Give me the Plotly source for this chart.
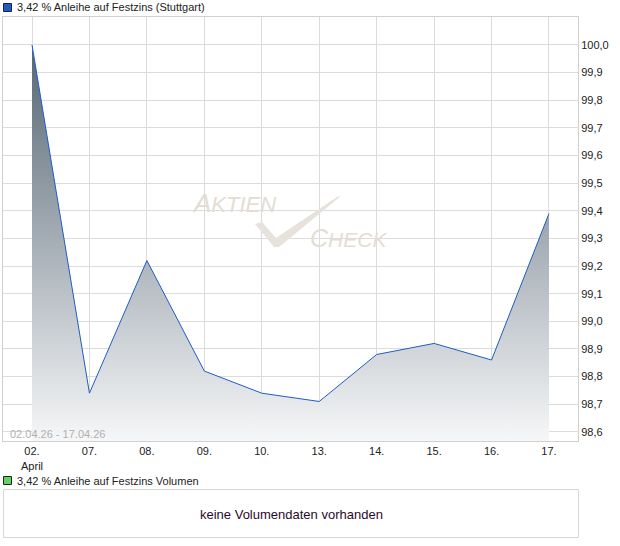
import plotly.graph_objects as go

# ---- data ----
dates = ["02.", "07.", "08.", "09.", "10.", "13.", "14.", "15.", "16.", "17."]
tick_labels = ["02.<br>April", "07.", "08.", "09.", "10.", "13.", "14.", "15.", "16.", "17."]
prices = [100.00, 98.74, 99.22, 98.82, 98.74, 98.71, 98.88, 98.92, 98.86, 99.39]
y_ticks = [98.6, 98.7, 98.8, 98.9, 99.0, 99.1, 99.2, 99.3, 99.4, 99.5, 99.6, 99.7, 99.8, 99.9, 100.0]
y_tick_text = [f"{v:.1f}".replace(".", ",") for v in y_ticks]
title_main = "3,42 % Anleihe auf Festzins (Stuttgart)"
title_vol = "3,42 % Anleihe auf Festzins Volumen"
no_vol = "keine Volumendaten vorhanden"
date_range = "02.04.26 - 17.04.26"

W, H = 620, 546
L, R, T, B = 3, 578, 17, 441  # plot area in pixels
Y_MIN, Y_MAX = 98.567, 100.101

def px(X):
    return (X - L) / (R - L)

def py(Y):
    return (B - Y) / (B - T)

FONT = "Liberation Sans, Arial, sans-serif"

xs = list(range(len(dates)))
fig = go.Figure()
fig.add_trace(go.Scatter(
    x=xs, y=prices, mode="lines",
    line=dict(color="#1f5cc4", width=1),
    fill="tozeroy",
    fillgradient=dict(type="vertical", start=Y_MIN, stop=100.0,
                      colorscale=[[0, "#f6f7f8"], [1, "#566674"]]),
    hoverinfo="skip", showlegend=False,
))

shapes = []
# legend squares
shapes.append(dict(type="rect", xref="paper", yref="paper",
                   x0=px(3.5), x1=px(11.5), y0=py(11.5), y1=py(3.5),
                   fillcolor="#1a5ccc", line=dict(color="#222", width=1)))
shapes.append(dict(type="rect", xref="paper", yref="paper",
                   x0=px(3.5), x1=px(11.5), y0=py(484.5), y1=py(476.5),
                   fillcolor="#5ed35e", line=dict(color="#222", width=1)))
# volume box
shapes.append(dict(type="rect", xref="paper", yref="paper",
                   x0=px(3.5), x1=px(578.5), y0=py(537.5), y1=py(489.5),
                   fillcolor="rgba(0,0,0,0)", line=dict(color="#d6d6d6", width=1)))
# watermark check mark
pts = [(255, 224), (262, 222), (276, 238), (337, 197), (341, 196), (279, 247), (274, 247)]
path = "M " + " L ".join(f"{px(a):.5f},{py(b):.5f}" for a, b in pts) + " Z"
shapes.append(dict(type="path", xref="paper", yref="paper", path=path,
                   fillcolor="#e7e2dc", line=dict(width=0), layer="above"))

wm = "#e3ddd6"
annotations = [
    dict(text=title_main, xref="paper", yref="paper", x=px(15), y=py(7),
         xanchor="left", yanchor="middle", showarrow=False,
         font=dict(family=FONT, size=11, color="#222")),
    dict(text=title_vol, xref="paper", yref="paper", x=px(15), y=py(480.5),
         xanchor="left", yanchor="middle", showarrow=False,
         font=dict(family=FONT, size=11, color="#222")),
    dict(text=no_vol, xref="paper", yref="paper", x=px(291), y=py(514),
         xanchor="center", yanchor="middle", showarrow=False,
         font=dict(family=FONT, size=13, color="#2a0a2a")),
    dict(text=date_range, xref="paper", yref="paper", x=px(8), y=py(434),
         xanchor="left", yanchor="middle", showarrow=False,
         font=dict(family=FONT, size=11, color="#b0b0b0")),
    dict(text="<i>A<span style='font-size:22px'>KTIEN</span></i>", xref="paper", yref="paper",
         x=px(190), y=py(203), xanchor="left", yanchor="middle", showarrow=False,
         font=dict(family=FONT, size=26, color=wm)),
    dict(text="<i>C<span style='font-size:21px'>HECK</span></i>", xref="paper", yref="paper",
         x=px(308), y=py(238), xanchor="left", yanchor="middle", showarrow=False,
         font=dict(family=FONT, size=25, color=wm)),
]

fig.update_layout(
    width=W, height=H,
    margin=dict(l=L, r=W - R, t=T, b=H - B, pad=0),
    paper_bgcolor="white", plot_bgcolor="white",
    font=dict(family=FONT, size=11, color="#222"),
    showlegend=False,
    shapes=shapes, annotations=annotations,
    xaxis=dict(range=[-0.505, 9.505], tickmode="array", tickvals=xs, ticktext=tick_labels,
               showgrid=True, gridcolor="#dcdcdc", gridwidth=1, zeroline=False,
               showline=True, linecolor="#d0d0d0", mirror=True, ticks="",
               tickfont=dict(family=FONT, size=11, color="#222"), fixedrange=True),
    yaxis=dict(range=[Y_MIN, Y_MAX], side="right", tickmode="array", tickvals=y_ticks,
               ticktext=y_tick_text, showgrid=True, gridcolor="#dcdcdc", gridwidth=1,
               zeroline=False, showline=True, linecolor="#d0d0d0", mirror=True, ticks="",
               tickfont=dict(family=FONT, size=11, color="#222"), fixedrange=True),
)

fig.write_html("out.html", config={"displayModeBar": False},
               post_script="document.body.style.margin='0';")
